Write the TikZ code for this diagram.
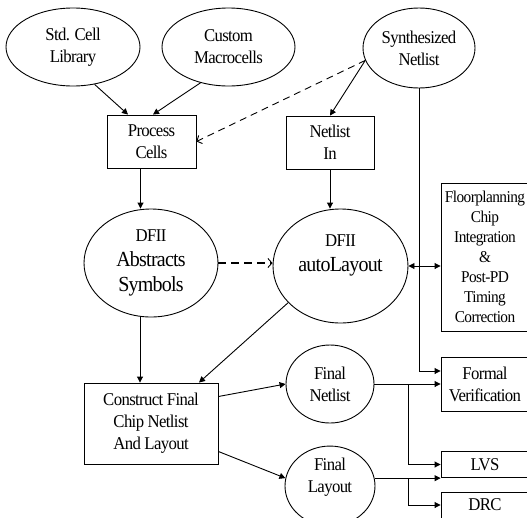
\documentclass[tikz,border=0pt]{standalone}
\usepackage{fontspec}
\setmainfont{Liberation Serif}[FakeStretch=0.93,LetterSpace=-3.5]
\usetikzlibrary{arrows.meta,positioning,calc,shapes.geometric}

\begin{document}
\begin{tikzpicture}[
  x=1pt, y=-1pt,
  txt/.style={font=\fontsize{18}{22}\selectfont, align=center},
  big/.style={font=\fontsize{21.5}{25}\selectfont, align=center},
  box/.style={draw, txt, line width=0.9pt, inner sep=0pt},
  blob/.style={draw, ellipse, txt, line width=0.9pt, inner sep=0pt},
  flow/.style={-{Triangle[length=6pt,width=6pt]}, line width=0.9pt},
  both/.style={{Triangle[length=6pt,width=6pt]}-{Triangle[length=6pt,width=6pt]}, line width=0.9pt},
  dflow/.style={-{Straight Barb[length=4pt,width=9pt,line width=0.9pt]}, line width=0.9pt, dash pattern=on 7pt off 5pt},
  tflow/.style={-{Straight Barb[length=4pt,width=9pt,line width=0.9pt]}, line width=1.8pt, dash pattern=on 8pt off 5pt}
]
\useasboundingbox (0,0) rectangle (527,517);
\clip (0,0) rectangle (527,517);

% sources
\node[blob, minimum width=134pt, minimum height=78pt] (lib) at (73,47) {Std. Cell\\Library};
\node[blob, minimum width=133pt, minimum height=78pt] (macro) at (228.5,47) {Custom\\Macrocells};
\node[blob, minimum width=112pt, minimum height=80pt] (synth) at (419,48) {Synthesized\\Netlist};

\node[box, minimum width=89pt, minimum height=53pt] (proc) at (151.5,141.5) {Process\\Cells};
\node[box, minimum width=88pt, minimum height=53pt] (netin) at (330,142.5) {Netlist\\In};

% DFII
\node[blob, big, minimum width=134pt, minimum height=108pt] (abs) at (151,263)
  {{\fontsize{18}{25}\selectfont DFII}\\Abstracts\\Symbols};
\node[blob, big, minimum width=135pt, minimum height=114pt] (auto) at (340.5,266)
  {{\fontsize{18}{25}\selectfont DFII}\\autoLayout\\\mbox{}};

\node[box, font=\fontsize{16.5}{20}\selectfont, minimum width=88pt, minimum height=148pt] (floor) at (485,257)
  {Floorplanning\\Chip\\Integration\\\&\\Post-PD\\Timing\\Correction};

% final
\node[box, minimum width=134pt, minimum height=81pt] (con) at (151,423.5) {Construct Final\\Chip Netlist\\And Layout};
\node[blob, minimum width=88pt, minimum height=78pt] (fnet) at (330,384) {Final\\Netlist};
\node[blob, minimum width=90pt, minimum height=78pt] (flay) at (330,486) {Final\\Layout\\\mbox{}};

\node[box, minimum width=88pt, minimum height=54pt] (formal) at (485,384) {Formal\\Verification};
\node[box, minimum width=88pt, minimum height=26pt] (lvs) at (485,464.5) {LVS};
\node[box, minimum width=88pt, minimum height=26pt] (drc) at (485,505) {DRC};

\draw[flow] (lib.-60) -- ([xshift=-23.5pt]proc.north);
\draw[flow] (macro.-128) -- ([xshift=1.5pt]proc.north);
\draw[dflow] (synth.193) -- (proc.east);
\draw[flow] (synth.193) -- (netin.north);
\draw[flow] (synth.south) |- ([yshift=13pt]formal.west);

\draw[flow] ([xshift=-11pt]proc.south) -- ([xshift=-11pt]proc.south |- abs.north);
\draw[flow] (netin.south) -- (netin.south |- auto.north);
\draw[tflow] (abs.east) -- (abs.east -| auto.west);
\draw[both] (auto.east) -- (auto.east -| floor.west);

\draw[flow] ([xshift=-11pt]abs.south) -- ([xshift=-11pt]abs.south |- con.north);
\draw[flow] (auto.215) -- ([xshift=48pt]con.north);
\draw[flow] ([yshift=27pt]con.east) -- (fnet.west);
\draw[flow] ([yshift=-28pt]con.east) -- (flay.170);

\coordinate (nsplit) at ($(fnet.east)+(34,0)$);
\coordinate (lsplit) at (flay.10 -| nsplit);
\draw[flow] (fnet.east) -- (formal.west);
\draw[flow] (nsplit) |- (lvs.west);
\draw[flow] (flay.10) -- (flay.10 -| lvs.west);
\draw[flow] (lsplit) |- (drc.west);
\end{tikzpicture}
\end{document}
